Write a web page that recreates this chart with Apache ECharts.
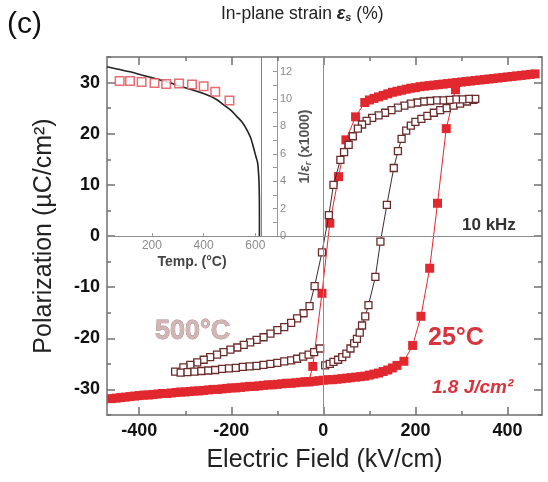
<!DOCTYPE html>
<html><head><meta charset="utf-8">
<script src="https://cdn.jsdelivr.net/npm/echarts@6/dist/echarts.min.js"></script>
<style>html,body{margin:0;padding:0;background:#fff}#c{width:548px;height:482px}</style>
</head><body><div id="c"></div>
<script>
// ---- 25 °C loop (filled red squares) ----
// ascending branch: negative saturation band -> switching -> positive saturation band
const e25Up = [-460,-450,-440,-430,-420,-410,-400,-390,-380,-370,-360,-350,-340,-330,-320,-310,-300,-290,-280,-270,-260,-250,-240,-230,-220,-210,-200,-190,-180,-170,-160,-150,-140,-130,-120,-110,-100,-90,-80,-70,-60,-50,-40,-30,-20,-10,0,10,20,30,40,50,60,70,80,90,100,110,120,130,140,150,160,
  175,194,212,231,248,267,287,
  290,300,310,320,330,340,350,360,370,380,390,400,410,420,430,440,450,460];
const p25Up = [-31.8,-31.7,-31.6,-31.5,-31.4,-31.3,-31.2,-31.1,-31.1,-31.0,-30.9,-30.8,-30.8,-30.7,-30.6,-30.5,-30.5,-30.4,-30.3,-30.3,-30.2,-30.1,-30.0,-30.0,-29.9,-29.8,-29.7,-29.7,-29.6,-29.5,-29.4,-29.4,-29.3,-29.2,-29.1,-29.1,-29.0,-28.9,-28.8,-28.8,-28.7,-28.6,-28.5,-28.5,-28.4,-28.3,-28.2,-28.1,-28.1,-28.0,-27.9,-27.8,-27.7,-27.6,-27.5,-27.4,-27.2,-27.0,-26.8,-26.5,-26.2,-25.8,-25.3,
  -24.5,-21.4,-15.7,-6.3,6.4,21.0,28.6,
  30.0,30.1,30.2,30.3,30.4,30.5,30.6,30.7,30.8,30.9,31.0,31.1,31.2,31.3,31.4,31.5,31.6,31.7];
// descending branch: positive band -> switching -> negative band
const e25Down = [280,270,260,250,240,230,220,210,200,190,180,170,160,150,140,130,120,110,100,90,
  70,49,33,14,-3,-23,-32];
const p25Down = [29.9,29.8,29.7,29.6,29.5,29.4,29.3,29.2,29.0,28.9,28.7,28.5,28.3,28.1,27.8,27.5,27.2,26.9,26.6,26.1,
  23.3,18.8,11.6,2.5,-11.2,-25.5,-28.5];

// ---- 500 °C loop (open squares) ----
const e500 = [4,14,22,32,41,50,59,67,73,79,84,91,98,113,124,138,153,162,170,180,190,200,213,226,240,254,268,283,297,312,326,
  330,316,302,288,274,260,246,232,218,204,190,176,162,148,134,120,106,94,84,75,64,55,45,37,22,12,-3,-19,-30,-43,-57,-70,-85,-100,-115,-130,-145,-159,-173,-187,-202,-217,-231,-246,-260,-274,-289,-304,-322,
  -310,-295,-280,-265,-250,-235,-220,-205,-190,-175,-160,-145,-130,-115,-100,-85,-70,-57,-44,-32,-20,-7];
const p500 = [-25.3,-25.0,-24.6,-24.2,-23.7,-23.0,-22.0,-21.0,-20.1,-18.9,-17.5,-15.7,-13.5,-8.0,-1.1,6.1,13.3,16.6,19.0,20.6,21.6,22.3,22.9,23.5,24.1,24.6,25.0,25.5,25.9,26.3,26.6,
  26.8,26.8,26.7,26.7,26.6,26.5,26.5,26.4,26.3,26.1,25.9,25.5,25.1,24.6,24.1,23.6,23.1,22.5,21.8,21.0,19.5,17.8,16.4,14.9,10.0,4.1,-3.2,-9.8,-13.7,-15.1,-16.1,-17.0,-17.8,-18.4,-19.1,-19.8,-20.3,-20.8,-21.3,-21.8,-22.2,-22.7,-23.2,-23.7,-24.2,-24.7,-25.2,-25.7,-26.5,
  -26.7,-26.6,-26.5,-26.4,-26.3,-26.2,-26.0,-25.9,-25.8,-25.6,-25.5,-25.4,-25.2,-25.0,-24.8,-24.5,-24.3,-24.0,-23.6,-23.2,-22.7,-22.0];

// ---- inset: polarization vs temperature ----
const insetT = [75,115,160,210,255,305,355,400,445,500];
const insetP = [30.3,30.3,30.1,29.9,29.7,29.8,29.6,29.3,28.2,26.5];
const fitT = [26,70,115,160,205,255,309,360,412,450,476,505,528,550,567,582,592,602,609,613,615,616,616];
const fitP = [33.1,32.6,32.1,31.5,30.9,30.2,29.3,28.5,27.6,26.7,25.7,24.6,23.4,22.2,20.8,19.2,17.5,15.6,14.3,12.0,9.5,5.0,0];
const curieT = 622;

// ---- ticks ----
const xMajor = [-400,-200,0,200,400];
const xAll = [-400,-300,-200,-100,0,100,200,300,400];
const yMajor = [-30,-20,-10,0,10,20,30];
const insetTLabels = [200,400,600];
const invEpsTicks = [0,1,2,3,4,5,6,7,8,9,10,11,12];
const invEpsLabels = [0,2,4,6,8,10,12];

const zip = (a, b) => a.map((v, i) => [v, b[i]]);
const F = 'Liberation Sans, Arial, Helvetica, sans-serif';
const AX = '#707070';

const chart = echarts.init(document.getElementById('c'));
const hid = {show: false};
const lineOn = (c, w) => ({show: true, onZero: false, lineStyle: {color: c, width: w}});
const lineOff = {show: false, onZero: false};
chart.setOption({
  animation: false,
  backgroundColor: '#fff',
  grid: [
    {left: 107, top: 57, width: 435, height: 358},
    {left: 107, top: 57, width: 170, height: 179},
    {left: 107, top: 57, width: 435, height: 358}
  ],
  xAxis: [
    {gridIndex: 0, type: 'value', position: 'bottom', min: -470, max: 475,
     axisLine: lineOn(AX, 1.5),
     axisTick: {inside: true, length: 4, customValues: xAll, lineStyle: {color: AX, width: 1.5}},
     axisLabel: {customValues: xMajor, margin: 7, fontSize: 18, fontWeight: 'bold', color: '#111', fontFamily: F},
     splitLine: hid,
     name: 'Electric Field (kV/cm)', nameLocation: 'middle', nameGap: 33,
     nameTextStyle: {fontSize: 25, color: '#222', fontFamily: F}},
    {gridIndex: 0, type: 'value', position: 'top', min: -470, max: 475,
     axisLine: lineOn(AX, 1.5),
     axisTick: {inside: true, length: 4, customValues: xAll, lineStyle: {color: AX, width: 1.5}},
     axisLabel: hid, splitLine: hid},
    {gridIndex: 2, type: 'value', position: 'bottom', min: -470, max: 475,
     axisLine: lineOff, axisTick: {inside: true, length: 8, customValues: xMajor, lineStyle: {color: AX, width: 1.5}},
     axisLabel: hid, splitLine: hid},
    {gridIndex: 2, type: 'value', position: 'top', min: -470, max: 475,
     axisLine: lineOff, axisTick: {inside: true, length: 8, customValues: xMajor, lineStyle: {color: AX, width: 1.5}},
     axisLabel: hid, splitLine: hid},
    {gridIndex: 1, type: 'value', position: 'bottom', min: 26, max: 684,
     axisLine: lineOn('#999', 1),
     axisTick: {inside: true, length: 3, customValues: insetTLabels, lineStyle: {color: '#999'}},
     axisLabel: {customValues: insetTLabels, margin: 4, fontSize: 12, color: '#8a8a8a', fontFamily: F},
     splitLine: hid,
     name: 'Temp. (°C)', nameLocation: 'middle', nameGap: 19,
     nameTextStyle: {fontSize: 14, fontWeight: 'bold', color: '#444', fontFamily: F}}
  ],
  yAxis: [
    {gridIndex: 0, type: 'value', position: 'left', min: -35, max: 35, interval: 5,
     axisLine: lineOn(AX, 1.5),
     axisTick: {inside: true, length: 4, lineStyle: {color: AX, width: 1.5}},
     axisLabel: {margin: 7, fontSize: 18, fontWeight: 'bold', color: '#111', fontFamily: F,
       formatter: v => (v % 10 === 0 && Math.abs(v) <= 30) ? String(v) : ''},
     splitLine: hid,
     name: 'Polarization (µC/cm²)', nameLocation: 'middle', nameGap: 50, nameRotate: 90,
     nameTextStyle: {fontSize: 25, color: '#222', fontFamily: F}},
    {gridIndex: 0, type: 'value', position: 'right', min: -35, max: 35, interval: 5,
     axisLine: lineOn(AX, 1.5),
     axisTick: {inside: true, length: 4, lineStyle: {color: AX, width: 1.5}},
     axisLabel: hid, splitLine: hid},
    {gridIndex: 2, type: 'value', position: 'left', min: -35, max: 35,
     axisLine: lineOff, axisTick: {inside: true, length: 8, customValues: yMajor, lineStyle: {color: AX, width: 1.5}},
     axisLabel: hid, splitLine: hid},
    {gridIndex: 2, type: 'value', position: 'right', min: -35, max: 35,
     axisLine: lineOff, axisTick: {inside: true, length: 8, customValues: yMajor, lineStyle: {color: AX, width: 1.5}},
     axisLabel: hid, splitLine: hid},
    {gridIndex: 1, type: 'value', position: 'left', min: 0, max: 35, show: false},
    {gridIndex: 1, type: 'value', position: 'right', min: 0, max: 13.07,
     axisLine: lineOn('#999', 1),
     axisTick: {inside: true, length: 4, customValues: invEpsTicks, lineStyle: {color: '#999'}},
     axisLabel: {customValues: invEpsLabels, margin: 3, fontSize: 11, color: '#8a8a8a', fontFamily: F},
     splitLine: hid,
     name: '1/{e|ε}{r|r} (x1000)', nameLocation: 'middle', nameGap: 20, nameRotate: 90,
     nameTextStyle: {fontSize: 14, fontWeight: 'bold', color: '#555', fontFamily: F,
       rich: {e: {fontSize: 14, fontStyle: 'italic', fontWeight: 'bold', color: '#555', fontFamily: F},
              r: {fontSize: 9, fontStyle: 'italic', fontWeight: 'bold', color: '#555', fontFamily: F, padding: [7, 0, 0, 0]}}}}
  ],
  series: [
    {type: 'line', xAxisIndex: 0, yAxisIndex: 0, data: [], z: 1, silent: true,
     markLine: {silent: true, symbol: 'none', label: {show: false},
       lineStyle: {color: '#8c8c8c', width: 1, type: 'solid'},
       data: [{xAxis: 0}, {yAxis: 0}]}},
    {name: '25°C', type: 'line', xAxisIndex: 0, yAxisIndex: 0, data: zip(e25Up, p25Up), z: 3,
     symbol: 'rect', symbolSize: 9, showAllSymbol: true,
     itemStyle: {color: '#e2282f'}, lineStyle: {color: '#e2282f', width: 1}},
    {name: '25°C', type: 'line', xAxisIndex: 0, yAxisIndex: 0, data: zip(e25Down, p25Down), z: 3,
     symbol: 'rect', symbolSize: 9, showAllSymbol: true,
     itemStyle: {color: '#e2282f'}, lineStyle: {color: '#e2282f', width: 1}},
    {name: '500°C', type: 'line', xAxisIndex: 0, yAxisIndex: 0, data: zip(e500, p500), z: 4,
     symbol: 'rect', symbolSize: 7, showAllSymbol: true,
     itemStyle: {color: '#fff', borderColor: '#6b2b2b', borderWidth: 1.3},
     lineStyle: {color: '#3c2c2c', width: 1}},
    {type: 'line', xAxisIndex: 4, yAxisIndex: 4, data: zip(fitT, fitP), z: 3,
     symbol: 'none', smooth: 0.3, lineStyle: {color: '#222', width: 1.6},
     markLine: {silent: true, symbol: 'none', label: {show: false},
       lineStyle: {color: '#c86464', width: 1, type: 'solid'},
       data: [{xAxis: curieT}]}},
    {type: 'scatter', xAxisIndex: 4, yAxisIndex: 4, data: zip(insetT, insetP), z: 4,
     symbol: 'rect', symbolSize: 8.5,
     itemStyle: {color: '#fff', borderColor: '#e0484d', borderWidth: 1.5}}
  ],
  graphic: [
    {type: 'text', left: 7, top: 10, style: {text: '(c)', fontSize: 30, fill: '#111', fontFamily: F}},
    {type: 'text', left: 221, top: 5, style: {
      text: 'In-plane strain {e|ε}{s|s} (%)', fontSize: 17.5, fill: '#222', fontFamily: F,
      rich: {e: {fontSize: 18, fontStyle: 'italic', fontWeight: 'bold', fill: '#222', fontFamily: F},
             s: {fontSize: 11, fontStyle: 'italic', fontWeight: 'bold', fill: '#222', fontFamily: F, padding: [8, 0, 0, 0]}}}},
    {type: 'text', x: 462, y: 225, style: {text: '10 kHz', fontSize: 17, fontWeight: 'bold', fill: '#333', fontFamily: F, verticalAlign: 'middle'}},
    {type: 'text', x: 155, y: 332, style: {text: '500°C', fontSize: 27, fontWeight: 'bold', fill: '#d2b6b6', stroke: '#a98888', lineWidth: 0.8, fontFamily: F, verticalAlign: 'middle'}},
    {type: 'text', x: 428, y: 338, style: {text: '25°C', fontSize: 25, fontWeight: 'bold', fill: '#d9333c', fontFamily: F, verticalAlign: 'middle'}},
    {type: 'text', x: 432, y: 388, style: {text: '1.8 J/cm²', fontSize: 19, fontWeight: 'bold', fontStyle: 'italic', fill: '#d9333c', fontFamily: F, verticalAlign: 'middle'}}
  ]
});
</script>
</body></html>
